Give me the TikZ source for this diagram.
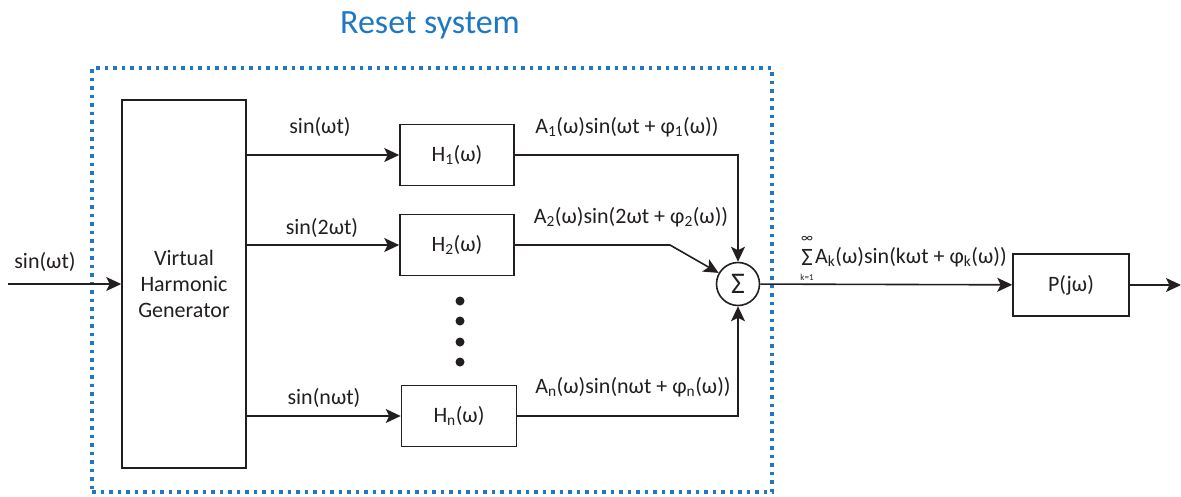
\documentclass[tikz,border=0pt]{standalone}
\usepackage{fontspec}
\setmainfont{Carlito}
\usetikzlibrary{arrows.meta}
\definecolor{resetblue}{RGB}{30,120,195}
\definecolor{ink}{RGB}{35,31,32}
\newcommand\sbs[1]{\textsubscript{#1}}
\begin{document}
\begin{tikzpicture}[x=1pt,y=-1pt,
  every node/.style={text=ink},
  font=\fontsize{22}{26}\selectfont,
  blk/.style={draw=ink, line width=1.6pt, inner sep=0pt},
  conn/.style={draw=ink, line width=1.6pt, -{Stealth[length=15pt,width=14pt,inset=3.5pt]}},
  lbl/.style={inner sep=0pt},
  dotnode/.style={circle, fill=ink, inner sep=0pt, minimum size=9pt}]
\useasboundingbox (0,0) rectangle (1181,496);
\node[lbl, text=resetblue, font=\fontsize{34}{38}\selectfont] (title) at (430,25) {Reset system};
\node[draw=resetblue, line width=3.5pt, dash pattern=on 3.5pt off 5pt, minimum width=680pt, minimum height=424pt, inner sep=0pt] (reset) at (432,280) {};

\node[blk, minimum width=124pt, minimum height=368pt, align=center] (vhg) at (184,284) {Virtual\\Harmonic\\Generator};
\node[blk, minimum width=114pt, minimum height=61pt] (h1) at (457,155) {H\sbs{1}(ω)};
\node[blk, minimum width=114pt, minimum height=61pt] (h2) at (457,245) {H\sbs{2}(ω)};
\node[blk, minimum width=115pt, minimum height=61pt] (hn) at (459,416) {H\sbs{n}(ω)};
\node[dotnode] (d1) at (460,301) {};
\node[dotnode] (d2) at (460,321) {};
\node[dotnode] (d3) at (460,342) {};
\node[dotnode] (d4) at (460,362) {};
\node[blk, circle, minimum size=43pt, font=\fontsize{30}{32}\selectfont] (sum) at (738,284) {Σ};
\node[blk, minimum width=116pt, minimum height=62pt] (p) at (1071,285) {P(jω)};

\coordinate (in) at (8,284);
\coordinate (out) at (1181,285);
\coordinate (h2b) at (670,245);

\draw[conn] (in) -- (vhg);
\draw[conn] (vhg.east|-h1) -- (h1);
\draw[conn] (vhg.east|-h2) -- (h2);
\draw[conn] (vhg.east|-hn) -- (hn);
\draw[conn] (h1.east) -- (sum|-h1) -- (sum.north);
\draw[conn] (h2.east) -- (h2b) -- (sum);
\draw[conn] (hn.east) -- (sum|-hn) -- (sum.south);
\draw[conn] (sum) -- (p);
\draw[conn] (p) -- (out);

\node[lbl] (lin) at (45,262) {sin(ωt)};
\node[lbl] (l1) at (320,127) {sin(ωt)};
\node[lbl] (l2) at (322,228) {sin(2ωt)};
\node[lbl] (ln) at (324,398) {sin(nωt)};
\node[lbl] (o1) at (627,127) {A\sbs{1}(ω)sin(ωt + φ\sbs{1}(ω))};
\node[lbl] (o2) at (631,217) {A\sbs{2}(ω)sin(2ωt + φ\sbs{2}(ω))};
\node[lbl] (on) at (633,387) {A\sbs{n}(ω)sin(nωt + φ\sbs{n}(ω))};
\node[lbl, font=\fontsize{25}{26}\selectfont] (sig) at (807,257) {Σ};
\node[lbl, font=\fontsize{14}{14}\selectfont] (inf) at (807,239) {∞};
\node[lbl, font=\fontsize{9}{10}\selectfont] (k1) at (807,277) {k=1};
\node[lbl, anchor=west] (osum) at (815,257) {A\sbs{k}(ω)sin(kωt + φ\sbs{k}(ω))};
\end{tikzpicture}
\end{document}
